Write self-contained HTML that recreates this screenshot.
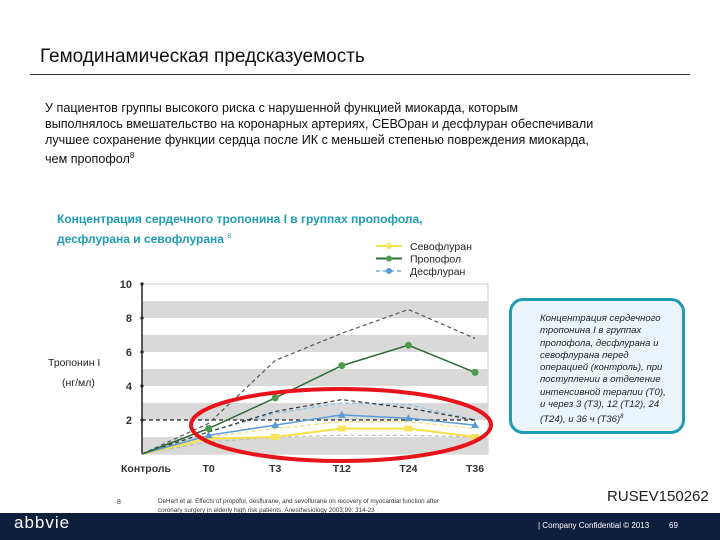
<!DOCTYPE html>
<html><head><meta charset="utf-8"><style>
body{margin:0;width:720px;height:540px;position:relative;background:#fff;font-family:"Liberation Sans","Noto Sans CJK SC",sans-serif;overflow:hidden}
.a{position:absolute;white-space:nowrap}
</style></head><body>
<div class="a" style="left:40px;top:46px;font-size:19px;color:#111">Гемодинамическая предсказуемость</div>
<div class="a" style="left:30px;top:74px;width:660px;height:1px;background:#333"></div>
<div class="a" style="left:45px;top:100px;font-size:12.6px;line-height:16px;color:#111">У пациентов группы высокого риска с нарушенной функцией миокарда, которым<br>выполнялось вмешательство на коронарных артериях, СЕВОран и десфлуран обеспечивали<br>лучшее сохранение функции сердца после ИК с меньшей степенью повреждения миокарда,<br>чем пропофол<sup style="font-size:8px">8</sup></div>
<div class="a" style="left:57px;top:211px;font-size:12px;font-weight:bold;color:#1f9cb3;line-height:17px">Концентрация сердечного тропонина I в группах пропофола,<br>десфлурана и севофлурана <sup style="font-size:7px;font-weight:normal">8</sup></div>
<svg class="a" style="left:0;top:0" width="720" height="540" id="chart"></svg>
<div class="a" style="left:509px;top:298px;width:176px;height:136px;border:3px solid #1f9cb3;border-radius:14px;background:#eaf4fa;box-sizing:border-box;font-size:9.6px;font-style:italic;line-height:12.3px;padding:12px 10px 0 28px;white-space:normal;color:#222">Концентрация сердечного тропонина I в группах пропофола, десфлурана и севофлурана перед операцией (контроль), при поступлении в отделение интенсивной терапии (Т0), и через 3 (Т3), 12 (Т12), 24 (Т24), и 36 ч (Т36)<sup style="font-size:6px">8</sup></div>
<div class="a" style="left:117px;top:499px;font-size:7px;color:#333">8</div>
<div class="a" style="left:158px;top:497px;font-size:6.3px;line-height:9px;color:#333">DeHert et al. Effects of propofol, desflurane, and sevoflurane on recovery of myocardial function after<br>coronary surgery in elderly high risk patients. Anesthesiology 2003;99: 314-23</div>
<div class="a" style="left:607px;top:488px;font-size:15px;color:#222">RUSEV150262</div>
<div class="a" style="left:0;top:513px;width:720px;height:27px;background:#0e1f3d"></div>
<div class="a" style="left:14px;top:513px;font-size:17px;color:#fff;letter-spacing:1px">abbvie</div>
<div class="a" style="left:538px;top:521px;font-size:8px;color:#fff">| Company Confidential © 2013</div>
<div class="a" style="left:669px;top:521px;font-size:8px;color:#fff">69</div>
<script>
const categories=["Контроль","T0","T3","T12","T24","T36"];
const sevo=[0,0.9,1.0,1.5,1.5,1.0];
const propofol=[0,1.5,3.3,5.2,6.4,4.8];
const des=[0,1.1,1.7,2.3,2.1,1.7];
const propUpper=[0,1.8,5.5,7.1,8.5,6.8];
const propCI=[0,1.3,2.5,3.2,2.7,2.0];
const desUpper=[0,1.3,2.4,3.0,2.9,2.0];
const sevoUpper=[0,1.0,1.5,1.9,1.9,1.5];
const lowerBand=[0,0.7,1.0,1.1,1.1,1.0];
const refLine=[2,2,2,2,2,2];
const yTicks=[2,4,6,8,10];
const NS="http://www.w3.org/2000/svg";
const svg=document.getElementById("chart");
const X0=142,X1=488,Y0=454,Y1=284;
const xs=[142,207,275,343,408,475];
function xp(i){return xs[0]+(xs[xs.length-1]-xs[0])*i/(categories.length-1);}
function yp(v){return Y0-(v/10)*(Y0-Y1);}
function el(t,a){const e=document.createElementNS(NS,t);for(const k in a)e.setAttribute(k,a[k]);svg.appendChild(e);return e;}
let e=el("rect",{x:X0,y:Y1,width:X1-X0,height:Y0-Y1,fill:"#fff",stroke:"#ccc"});


for(let b=0;b<10;b+=2){e=el("rect",{x:X0,y:yp(b+1),width:X1-X0,height:yp(b)-yp(b+1),fill:"#d9d9d9"});

}
e=el("line",{x1:X0,y1:Y1,x2:X0,y2:Y0,stroke:"#222","stroke-width":1.5});


yTicks.forEach(t=>{e=el("circle",{cx:X0,cy:yp(t),r:1.6,fill:"#222"});


e=el("text",{x:X0-10,y:yp(t)+4,"text-anchor":"end","font-size":11,"font-weight":"bold",fill:"#333"});e.textContent=t;

});
categories.forEach((c,i)=>{e=el("text",{x:i==0?xp(i)+4:xp(i),y:472,"text-anchor":"middle","font-size":10.5,"font-weight":"bold",fill:"#333"});e.textContent=c;

});
e=el("text",{x:48,y:366,"font-size":10.5,fill:"#222"});e.textContent="Тропонин I";


e=el("text",{x:62,y:386,"font-size":10.5,fill:"#222"});e.textContent="(нг/мл)";


function line(arr,col,w,dash,name){const p=arr.map((v,i)=>xp(i)+","+yp(v)).join(" ");
const l=el("polyline",{points:p,fill:"none",stroke:col,"stroke-width":w,"stroke-dasharray":dash||"none"});

}
line(lowerBand,"#bbb",1.2,"4,3","sevo-lower-ci");
line(sevoUpper,"#f3e27a",1.3,"4,3","sevo-upper-ci");
line(desUpper,"#8fc4e0",1.3,"4,3","des-upper-ci");
line(propCI,"#333",1.2,"4,3","propofol-lower-ci");
line(refLine,"#222",1.2,"4,3","reference-line");
line(propUpper,"#555",1.2,"4,3","propofol-upper-ci");
line(sevo,"#f4e04a",2,"","sevo-line");
line(des,"#5b9bd5",1.5,"","des-line");
line(propofol,"#2e6b3a",1.5,"","propofol-line");
sevo.forEach((v,i)=>{if(i){e=el("rect",{x:xp(i)-4,y:yp(v)-3,width:8,height:6,fill:"#f6e35a"});

}});
des.forEach((v,i)=>{if(i){e=el("polygon",{points:`${xp(i)},${yp(v)-4} ${xp(i)-4},${yp(v)+3} ${xp(i)+4},${yp(v)+3}`,fill:"#5b9bd5"});

}});
propofol.forEach((v,i)=>{if(i){e=el("circle",{cx:xp(i),cy:yp(v),r:3.5,fill:"#4a9a4a"});

}});
e=el("ellipse",{cx:341,cy:425,rx:150,ry:36,fill:"none",stroke:"#e8141b","stroke-width":4});


const leg=[["Севофлуран","#f4e04a",""],["Пропофол","#2e6b3a",""],["Десфлуран","#8fc4e0","4,3"]];
leg.forEach((l,k)=>{const y=246+k*12.5;
e=el("line",{x1:376,y1:y,x2:402,y2:y,stroke:l[1],"stroke-width":2,"stroke-dasharray":l[2]||"none"});


e=el("circle",{cx:389,cy:y,r:3,fill:k==0?"#f6e35a":k==1?"#4a9a4a":"#5b9bd5"});


e=el("text",{x:410,y:y+4,"font-size":10.5,fill:"#222"});e.textContent=l[0];

});
</script>
</body></html>
